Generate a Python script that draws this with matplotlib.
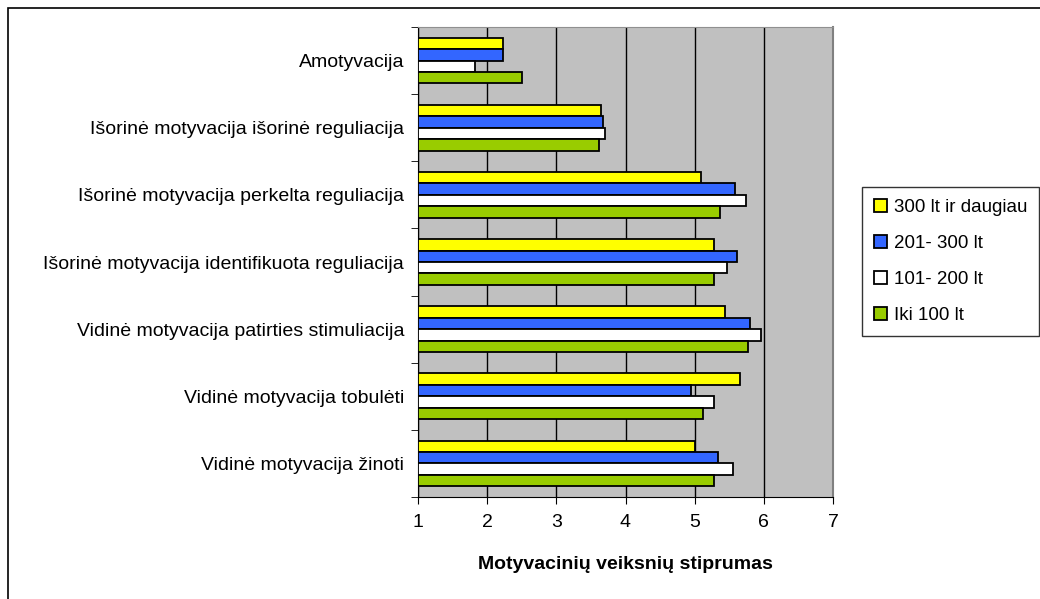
import numpy as np
import matplotlib.pyplot as plt
from matplotlib.patches import Rectangle

plt.rcParams['font.family'] = ['Liberation Sans', 'DejaVu Sans']

categories = ['Amotyvacija',
              'Išorinė motyvacija išorinė reguliacija',
              'Išorinė motyvacija perkelta reguliacija',
              'Išorinė motyvacija identifikuota reguliacija',
              'Vidinė motyvacija patirties stimuliacija',
              'Vidinė motyvacija tobulėti',
              'Vidinė motyvacija žinoti']

series_names = ['300 lt ir daugiau', '201- 300 lt', '101- 200 lt', 'Iki 100 lt']
v_300 = [2.23, 3.64, 5.09, 5.28, 5.44, 5.66, 5.00]
v_201 = [2.23, 3.68, 5.58, 5.61, 5.80, 4.95, 5.34]
v_101 = [1.82, 3.70, 5.74, 5.47, 5.96, 5.28, 5.55]
v_iki = [2.50, 3.62, 5.36, 5.28, 5.77, 5.12, 5.28]
colors = ['#FFFF00', '#3366FF', '#FFFFFF', '#99CC00']

fig = plt.figure(figsize=(10.4, 5.99), dpi=100)
ax = fig.add_axes([418/1040, 1-497/599, (833-418)/1040, (497-27)/599])
ax.set_facecolor('#C0C0C0')

# outer chart border (only left/top visible in the picture)
fig.patches.append(Rectangle((8/1040, -0.05), 1.2, 1-8/599+0.05, transform=fig.transFigure,
                             fill=False, edgecolor='black', linewidth=1.2))

y = np.arange(len(categories))
h = 0.17
for i, (vals, c, name) in enumerate(zip([v_300, v_201, v_101, v_iki], colors, series_names)):
    off = (i - 1.5) * h
    ax.barh(y + off, np.array(vals) - 1, left=1, height=h, color=c,
            edgecolor='black', linewidth=1.3, label=name, zorder=3)

ax.set_xlim(1, 7)
ax.set_ylim(len(categories) - 0.5, -0.5)
ax.set_xticks(range(1, 8))
ax.xaxis.grid(True, color='black', linewidth=1.0, zorder=1)
ax.set_axisbelow(True)

fs = 14
ax.set_yticks(y)
ax.set_yticklabels(categories, fontsize=fs)
ax.tick_params(axis='y', length=0, pad=10)
ax.set_yticks(np.arange(-0.5, len(categories) + 0.5, 1), minor=True)
ax.tick_params(axis='y', which='minor', length=5, direction='out')
ax.tick_params(axis='x', length=5, direction='out', labelsize=fs, pad=7)

ax.spines['top'].set_color('#909090')
ax.spines['right'].set_color('#808080')
ax.spines['right'].set_linewidth(1.5)
ax.spines['left'].set_color('black')
ax.spines['bottom'].set_color('black')

ax.set_xlabel('Motyvacinių veiksnių stiprumas', fontsize=fs, fontweight='bold', labelpad=18)

leg = ax.legend(loc='upper left', bbox_to_anchor=(862/1040, 1-187/599), bbox_transform=fig.transFigure,
                fontsize=13.5, frameon=True, fancybox=False, edgecolor='black', handlelength=0.7,
                handleheight=0.7, handletextpad=0.35, labelspacing=1.0, borderpad=0.65,
                borderaxespad=0)
leg.get_frame().set_linewidth(1.0)

plt.savefig('out.png', dpi=100)
